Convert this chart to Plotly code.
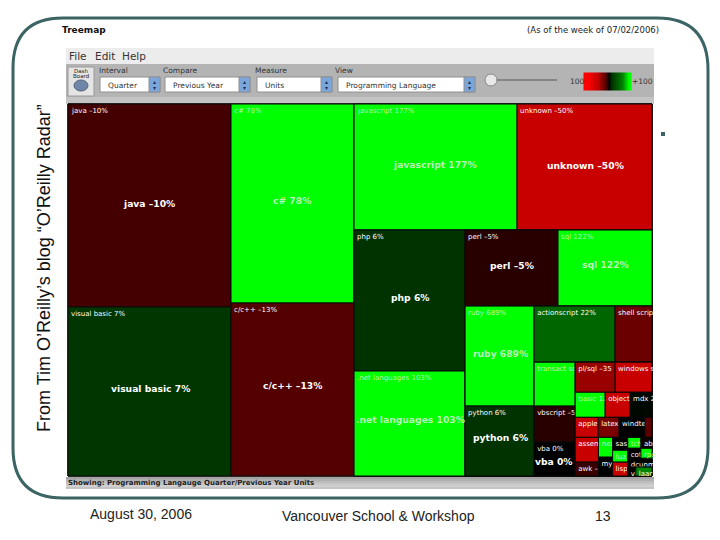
import plotly.graph_objects as go

# TREEMAP DATA (value = tile area, change = % label)
names = ['root',
         'col a', 'col b', 'col c',
         'java', 'visual basic', 'c#', 'c/c++',
         'top c', 'low c', 'javascript', 'unknown',
         'php col', 'right', 'php', '.net languages',
         'r1', 'r2', 'perl', 'sql',
         'ruby col', 's', 'ruby', 'python',
         's1', 's2', 'actionscript', 'shell script',
         't col', 'u', 'transact sql', 'vbscript', 'vba',
         'u1', 'u2', 'u3', 'u4',
         'pl/sql', 'windows s', 'basic', 'objective', 'mdx',
         'apples', 'latex', 'windtel', 'misc',
         'v1', 'v2', 'v3', 'v4',
         'assem', 'awk', 'nesc', 'mys', 'sas', 'lua', 'lisp',
         'w1', 'w2', 'dcunm', 'w4',
         'tech', 'abc', 'cot', 'rpg', 'vh', 'laar']

parents = ['',
           'root', 'root', 'root',
           'col a', 'col a', 'col b', 'col b',
           'col c', 'col c', 'top c', 'top c',
           'low c', 'low c', 'php col', 'php col',
           'right', 'right', 'r1', 'r1',
           'r2', 'r2', 'ruby col', 'ruby col',
           's', 's', 's1', 's1',
           's2', 's2', 't col', 't col', 't col',
           'u', 'u', 'u', 'u',
           'u1', 'u1', 'u2', 'u2', 'u2',
           'u3', 'u3', 'u3', 'u3',
           'u4', 'u4', 'u4', 'u4',
           'v1', 'v1', 'v2', 'v2', 'v3', 'v3', 'v3',
           'v4', 'v4', 'v4', 'v4',
           'w1', 'w1', 'w2', 'w2', 'w4', 'w4']

values = [0,
          0, 0, 0,
          33089, 27547, 24477, 21279,
          0, 0, 20538, 17010,
          0, 0, 15651, 11655,
          0, 0, 7068, 7144,
          0, 0, 6900, 4830,
          0, 0, 4536, 2072,
          0, 0, 1804, 1476, 1394,
          0, 0, 0, 0,
          1200, 1110, 750, 625, 550,
          460, 420, 520, 140,
          0, 0, 0, 0,
          575, 322, 280, 266, 195, 180, 210,
          0, 0, 216, 0,
          143, 121, 130, 110, 72, 144]

change = [0,
          0, 0, 0,
          -10, 7, 78, -13,
          0, 0, 177, -50,
          0, 0, 6, 103,
          0, 0, -5, 122,
          0, 0, 689, 6,
          0, 0, 22, -20,
          0, 0, 90, -5, 0,
          0, 0, 0, 0,
          -35, -50, 120, -50, 1,
          -50, -25, 0, -15,
          0, 0, 0, 0,
          -50, -8, 90, 0, 0, 150, -50,
          0, 0, 0, 0,
          70, -2, 0, 60, 0, 30]

small_labels = {'java': 'java –10%', 'visual basic': 'visual basic 7%', 'c#': 'c# 78%',
                'c/c++': 'c/c++ –13%', 'javascript': 'javascript 177%', 'unknown': 'unknown –50%',
                'php': 'php 6%', '.net languages': '.net languages 103%', 'perl': 'perl –5%',
                'sql': 'sql 122%', 'ruby': 'ruby 689%', 'python': 'python 6%',
                'actionscript': 'actionscript 22%', 'shell script': 'shell scrip',
                'transact sql': 'transact sql', 'vbscript': 'vbscript –5', 'vba': 'vba 0%',
                'pl/sql': 'pl/sql –35', 'windows s': 'windows s', 'basic': 'basic 12',
                'objective': 'objecti', 'mdx': 'mdx 2', 'apples': 'apples', 'latex': 'latex',
                'windtel': 'windtel', 'assem': 'assem', 'awk': 'awk –', 'nesc': 'nea',
                'mys': 'mys', 'sas': 'sas', 'lua': 'lua', 'lisp': 'lisp', 'tech': 'tch',
                'abc': 'abc', 'cot': 'cot', 'rpg': 'rpg', 'dcunm': 'dcunm', 'vh': 'vh', 'laar': 'laar'}

big_labels = ['java –10%', 'visual basic 7%', 'c# 78%', 'c/c++ –13%', 'javascript 177%',
              'unknown –50%', 'php 6%', '.net languages 103%', 'perl –5%', 'sql 122%',
              'ruby 689%', 'python 6%', 'vba 0%']
big_label_x = [149, 150, 292, 292, 435, 585, 410, 410, 512, 605, 500, 500, 554]
big_label_y = [203, 388, 200, 385, 164, 165, 297, 419, 265, 264, 353, 437, 461]
big_label_bright = [False, False, True, False, True, False, False, True, False, True, True, False, False]

# toolbar text
menu_items = ['File', 'Edit', 'Help']
combo_titles = ['Interval', 'Compare', 'Measure', 'View']
combo_values = ['Quarter', 'Previous Year', 'Units', 'Programming Language']

# red - black - green scale of the tool, on -100..100
change_scale = [[0.0, '#ff0000'], [0.25, '#c80000'], [0.435, '#550000'], [0.475, '#280000'],
                [0.5, '#000000'], [0.53, '#003300'], [0.61, '#006600'], [0.8, '#00ff00'],
                [1.0, '#00ff00']]

TEAL = '#3c6464'
PALE = '#b8f5b8'
W, H = 720, 540
box = dict(x=[68 / W, 652 / W], y=[1 - 476 / H, 1 - 104 / H])

fig = go.Figure()


def rect(x0, y0, x1, y1, fill, line=None):
    fig.add_shape(type='rect', x0=x0, y0=y0, x1=x1, y1=y1, fillcolor=fill,
                  line=dict(color=line or fill, width=1 if line else 0), layer='below')


def label(x, y, txt, size, color='#222222', family='DejaVu Sans', anchor='left', angle=0):
    fig.add_annotation(x=x, y=y, text=txt, showarrow=False, xanchor=anchor, yanchor='middle',
                       textangle=angle, font=dict(family=family, size=size, color=color))


# WINDOW
rect(66, 48, 654, 64, '#ececec')
rect(66, 64, 654, 97, '#b4b4b4')
rect(66, 97, 654, 104, '#c4c4c4')
for i, grey in enumerate(['#a4a4a4', '#b0b0b0', '#bcbcbc', '#c8c8c8', '#d0d0d0', '#c4c4c4']):
    rect(66, 477 + i * 2, 654, 479 + i * 2, grey)

# dashboard button
rect(68, 67, 94, 96, '#e4e4e4', '#9a9a9a')
fig.add_shape(type='circle', x0=74, y0=80, x1=88, y1=91, fillcolor='#6f86a8',
              line=dict(color='#55657a', width=1), layer='below')
label(81, 70.5, 'Dash', 5.5, anchor='center')
label(81, 76, 'Board', 5.5, anchor='center')

# combos
combo_x = [(100, 160), (165, 250), (257, 332), (338, 475)]
title_x = [97, 161, 253, 333]
for (x0, x1), tx, title, val in zip(combo_x, title_x, combo_titles, combo_values):
    fig.add_shape(type='rect', x0=x0, y0=77, x1=x1, y1=92, fillcolor='white',
                  line=dict(color='#909090', width=1), layer='below')
    fig.add_shape(type='rect', x0=x1 - 11, y0=77, x1=x1, y1=92, fillcolor='#7aa6dc',
                  line=dict(color='#909090', width=1), layer='below')
    label(x1 - 5.5, 81.5, '▴', 6, color='#203050', anchor='center')
    label(x1 - 5.5, 87.5, '▾', 6, color='#203050', anchor='center')
    label(tx, 70, title, 7.5, color='#333333')
    label(x0 + 6, 85, val, 7.5, color='#333333')

for x, item in zip([67, 93, 120], menu_items):
    label(x, 56, item, 10.5, color='#333333')

# slider
fig.add_shape(type='line', x0=491, y0=80, x1=557, y1=80, line=dict(color='#777777', width=1.5),
              layer='below')
fig.add_shape(type='circle', x0=485, y0=74, x1=497, y1=86, fillcolor='#e8e8e8',
              line=dict(color='#888888', width=1))
label(577, 81, '100', 7.5, color='#333333', anchor='center')
label(642, 81, '+100', 7.5, color='#333333', anchor='center')

# TREEMAP
leaf_colors = [PALE if c >= 60 else 'white' for c in change]
fig.add_trace(go.Treemap(
    ids=names, labels=names, parents=parents, values=values,
    branchvalues='remainder', sort=False, domain=box,
    text=[small_labels.get(n, '') for n in names], textinfo='text',
    textposition='top left', hoverinfo='skip',
    textfont=dict(family='DejaVu Sans', size=7, color=leaf_colors),
    tiling=dict(packing='slice-dice', pad=0),
    pathbar=dict(visible=False),
    marker=dict(colors=change, colorscale=change_scale, cmin=-100, cmax=100, showscale=False,
                pad=dict(t=0, l=0, r=0, b=0), line=dict(color='#0a0a0a', width=1)),
))

# big centre labels
for txt, x, y, bright in zip(big_labels, big_label_x, big_label_y, big_label_bright):
    label(x, y, '<b>%s</b>' % txt, 9.2, color=PALE if bright else 'white', anchor='center')

# legend gradient of the tool
legend_z = [-100, -60, -30, 0, 15, 30, 60]
fig.add_trace(go.Heatmap(z=[legend_z, legend_z], x=[587, 594, 601, 608, 615, 622, 628],
                         y=[77, 86], colorscale=change_scale, zmin=-100, zmax=100,
                         showscale=False, zsmooth='best', hoverinfo='skip'))

label(60, 30, '<b>Treemap</b>', 9, color='#111111')
label(661, 30, '(As of the week of 07/02/2006)', 8.5, color='#222222', anchor='right')
label(66, 483, '<b>Showing: Programming Langauge Quarter/Previous Year Units</b>', 7, color='#222222')

# SLIDE FRAME
fig.add_shape(type='path', line=dict(color=TEAL, width=3), layer='above',
              path='M 63 18 L 657 18 Q 708 18 708 70 L 708 448 Q 708 498 657 498 '
                   'L 63 498 Q 13 498 13 448 L 13 68 Q 13 18 63 18 Z')
rect(661, 132, 665, 136, TEAL)

label(44, 268, 'From Tim O’Reilly’s blog “O’Reilly Radar”', 18, color='#111111',
      family='Liberation Sans', anchor='center', angle=-90)
label(141, 514, 'August 30, 2006', 14, color='#222222', family='Liberation Sans', anchor='center')
label(378, 516, 'Vancouver School &amp; Workshop', 14, color='#222222', family='Liberation Sans', anchor='center')
label(603, 516, '13', 14, color='#222222', family='Liberation Sans', anchor='center')

fig.update_layout(width=W, height=H, margin=dict(l=0, r=0, t=0, b=0), showlegend=False,
                  paper_bgcolor='white', plot_bgcolor='white',
                  uniformtext=dict(minsize=7, mode='show'),
                  xaxis=dict(range=[0, W], visible=False, fixedrange=True),
                  yaxis=dict(range=[H, 0], visible=False, fixedrange=True))

# the page's default body margin would push the chart 8px off
fig.write_html('out.html', config=dict(displayModeBar=False),
               post_script="document.body.style.margin='0';")
